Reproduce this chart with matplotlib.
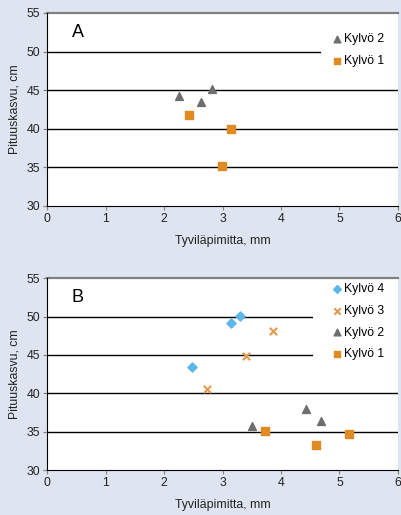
import matplotlib.pyplot as plt
from matplotlib.patches import Rectangle

plt.rcParams['font.family'] = ['Liberation Sans', 'DejaVu Sans']

# Paneeli A
a_k2_x = [2.25, 2.63, 2.82]
a_k2_y = [44.2, 43.4, 45.1]
a_k1_x = [2.43, 3.15, 2.99]
a_k1_y = [41.8, 40.0, 35.2]

# Paneeli B
b_k4_x = [2.47, 3.15, 3.30]
b_k4_y = [43.4, 49.2, 50.1]
b_k3_x = [2.74, 3.40, 3.87]
b_k3_y = [40.6, 44.8, 48.1]
b_k2_x = [3.50, 4.42, 4.69]
b_k2_y = [35.7, 37.9, 36.4]
b_k1_x = [3.73, 4.59, 5.16]
b_k1_y = [35.05, 33.3, 34.7]

xticks = [0, 1, 2, 3, 4, 5, 6]
yticks = [30, 35, 40, 45, 50, 55]
grid_y = [35, 40, 45, 50]

bg = '#dee4f0'
c_tri = '#6e6e6e'
c_sq = '#e08a24'
c_dia = '#5db6e8'
c_x = '#e39a4c'
fs = 8.8

fig = plt.figure(figsize=(4.02, 5.15), dpi=100, facecolor=bg)
axA = fig.add_axes([0.117, 0.600, 0.873, 0.375])
axB = fig.add_axes([0.117, 0.087, 0.873, 0.373])


def style(ax, letter):
    ax.set_facecolor('white')
    ax.set_xlim(0, 6)
    ax.set_ylim(30, 55)
    ax.set_xticks(xticks)
    ax.set_yticks(yticks)
    for g in grid_y:
        ax.axhline(g, color='black', lw=1.0, zorder=1)
    ax.axhline(55, color='#808080', lw=1.6, zorder=1, clip_on=False)
    for s in ['top', 'right']:
        ax.spines[s].set_visible(False)
    ax.spines['left'].set_color('black')
    ax.spines['bottom'].set_color('black')
    ax.tick_params(axis='both', labelsize=fs, length=3, width=0.8,
                   colors='#808080', labelcolor='#222222', pad=2)
    ax.set_xlabel('Tyviläpimitta, mm', fontsize=fs, color='#222222', labelpad=7)
    ax.set_ylabel('Pituuskasvu, cm', fontsize=fs, color='#222222', labelpad=4)
    ax.text(0.42, 52.5, letter, fontsize=13, color='black', va='center')


def legend(ax, x0, y_lo, y_hi, xc, yc):
    # valkoinen tausta legendan alle, peittää ruudukon
    ax.add_patch(Rectangle((x0, y_lo), 1 - x0, y_hi - y_lo, transform=ax.transAxes,
                           facecolor='white', edgecolor='none', zorder=2))
    ax.legend(loc='center left', bbox_to_anchor=(xc, yc), frameon=False,
              fontsize=fs, handletextpad=0.1, labelspacing=0.8,
              borderpad=0, handlelength=0.9, borderaxespad=0, markerscale=0.85)


style(axA, 'A')
axA.scatter(a_k2_x, a_k2_y, marker='^', s=32, color=c_tri, zorder=3, label='Kylvö 2')
axA.scatter(a_k1_x, a_k1_y, marker='s', s=32, color=c_sq, zorder=3, label='Kylvö 1')
legend(axA, 0.78, 0.70, 0.93, 0.81, 0.806)

style(axB, 'B')
axB.scatter(b_k4_x, b_k4_y, marker='D', s=22, color=c_dia, zorder=3, label='Kylvö 4')
axB.scatter(b_k3_x, b_k3_y, marker='x', s=28, linewidths=1.5, color=c_x, zorder=3, label='Kylvö 3')
axB.scatter(b_k2_x, b_k2_y, marker='^', s=32, color=c_tri, zorder=3, label='Kylvö 2')
axB.scatter(b_k1_x, b_k1_y, marker='s', s=32, color=c_sq, zorder=3, label='Kylvö 1')
legend(axB, 0.758, 0.56, 0.97, 0.81, 0.773)

fig.savefig('out.png', dpi=100, facecolor=bg)
